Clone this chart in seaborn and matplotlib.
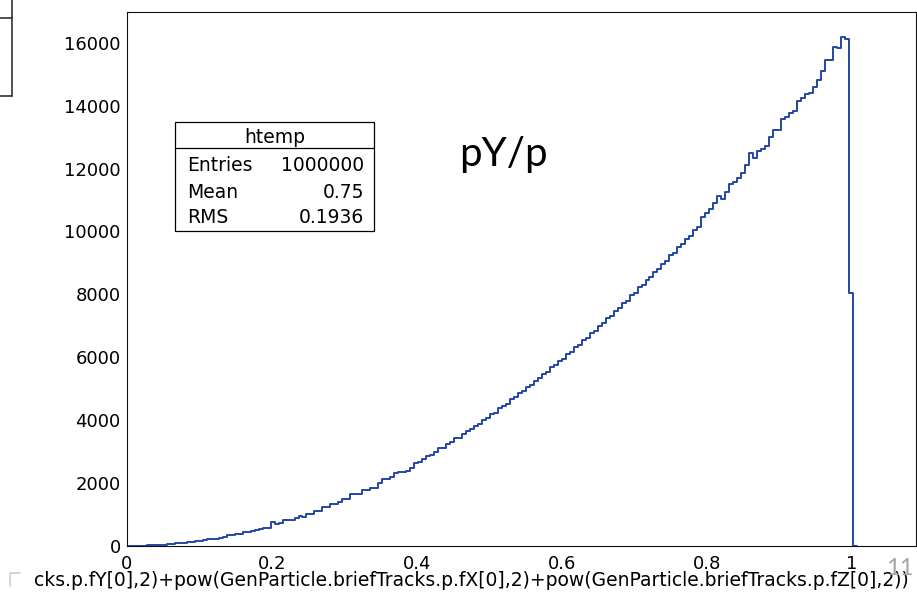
import pandas as pd
import seaborn as sns
import matplotlib.pyplot as plt
from matplotlib.ticker import MultipleLocator
from matplotlib.lines import Line2D
from matplotlib.patches import Rectangle

# histogram binning (ROOT htemp, bin width 0.0055 starting at 0)
bin_width = 0.0055

# bin contents, bins 0..181, then one empty bin
counts = [
    0, 1, 3, 7, 9, 16, 20, 29, 35, 45,
    57, 64, 82, 91, 104, 118, 134, 150, 152, 190,
    212, 222, 238, 261, 300, 339, 351, 372, 384, 430,
    450, 492, 510, 545, 572, 575, 752, 699, 720, 826,
    830, 840, 890, 964, 932, 1017, 1030, 1112, 1120, 1250,
    1255, 1335, 1345, 1398, 1494, 1500, 1642, 1650, 1660, 1780,
    1790, 1833, 1840, 1991, 2129, 2140, 2203, 2330, 2340, 2350,
    2394, 2489, 2627, 2680, 2760, 2850, 2905, 2990, 3110, 3130,
    3240, 3300, 3420, 3440, 3570, 3650, 3720, 3830, 3890, 4020,
    4070, 4190, 4240, 4380, 4440, 4520, 4660, 4730, 4850, 4920,
    5060, 5110, 5260, 5330, 5460, 5530, 5680, 5740, 5890, 5950,
    6110, 6170, 6330, 6400, 6550, 6620, 6780, 6850, 7010, 7080,
    7250, 7310, 7480, 7560, 7720, 7800, 7970, 8040, 8220, 8290,
    8470, 8540, 8720, 8800, 8980, 9060, 9240, 9330, 9500, 9590,
    9770, 9860, 10050, 10140, 10450, 10583, 10700, 10920, 11141, 11036,
    11267, 11500, 11584, 11710, 11848, 12121, 12480, 12343, 12564, 12607,
    12711, 13007, 13239, 13239, 13587, 13639, 13765, 13829, 14134, 14251,
    14356, 14398, 14609, 14830, 15115, 15463, 15463, 15873, 15821, 16170,
    16130, 8050, 0,
]

x_ticks = [0, 0.2, 0.4, 0.6, 0.8, 1.0]
x_tick_labels = ['0', '0.2', '0.4', '0.6', '0.8', '1']
y_ticks = [0, 2000, 4000, 6000, 8000, 10000, 12000, 14000, 16000]
y_tick_labels = [str(v) for v in y_ticks]

stats_title = 'htemp'
stats_rows = [('Entries', '1000000'), ('Mean', '0.75'), ('RMS', '0.1936')]
x_title = 'cks.p.fY[0],2)+pow(GenParticle.briefTracks.p.fX[0],2)+pow(GenParticle.briefTracks.p.fZ[0],2))'

W, H = 917, 597
line_blue = '#2446a6'


def fx(px):
    return px / W


def fy(py):
    return 1 - py / H


def main():
    sns.set_style('white')
    plt.rcParams['font.family'] = ['DejaVu Sans']
    plt.rcParams['text.color'] = 'black'
    plt.rcParams['xtick.color'] = 'black'
    plt.rcParams['ytick.color'] = 'black'

    n_bins = len(counts)
    edges = [round(i * bin_width, 6) for i in range(n_bins + 1)]
    centers = [(edges[i] + edges[i + 1]) / 2 for i in range(n_bins)]
    df = pd.DataFrame({'x': centers, 'count': counts})

    fig = plt.figure(figsize=(W / 100, H / 100), dpi=100)
    ax = fig.add_axes([fx(127), fy(546), fx(916) - fx(127), fy(12) - fy(546)])

    sns.histplot(data=df, x='x', weights='count', bins=edges, element='step',
                 fill=False, color=line_blue, linewidth=1.4, ax=ax)

    ax.set_xlim(0, 1.088)
    ax.set_ylim(0, 1.05 * max(counts))
    ax.set_xlabel('')
    ax.set_ylabel('')

    ax.set_xticks(x_ticks)
    ax.set_xticklabels(x_tick_labels)
    ax.set_yticks(y_ticks)
    ax.set_yticklabels(y_tick_labels)
    ax.xaxis.set_minor_locator(MultipleLocator(0.05))
    ax.yaxis.set_minor_locator(MultipleLocator(500))
    ax.tick_params(axis='x', which='major', direction='in', length=11.5, width=0.8,
                   labelsize=13, pad=6.5, colors='black')
    ax.tick_params(axis='x', which='minor', direction='in', length=6, width=0.8, colors='black')
    ax.tick_params(axis='y', which='major', direction='in', length=17, width=0.8,
                   labelsize=13, pad=4.5, colors='black')
    ax.tick_params(axis='y', which='minor', direction='in', length=8.5, width=0.8, colors='black')
    for sp in ax.spines.values():
        sp.set_color('#111111')
        sp.set_linewidth(0.8)

    # stats box
    bx0, bx1, by0, by1, bdiv = 175, 374, 122, 231, 148
    fig.add_artist(Rectangle((fx(bx0), fy(by1)), fx(bx1) - fx(bx0), fy(by0) - fy(by1),
                             transform=fig.transFigure, fill=True, facecolor='white',
                             edgecolor='black', linewidth=0.9))
    fig.add_artist(Line2D([fx(bx0), fx(bx1)], [fy(bdiv), fy(bdiv)],
                          transform=fig.transFigure, color='black', linewidth=0.9))
    fig.text(fx(275), fy(143), stats_title, ha='center', va='baseline', fontsize=13.5)
    for (name, val), base in zip(stats_rows, [171, 198, 223]):
        fig.text(fx(187), fy(base), name, ha='left', va='baseline', fontsize=13.5)
        fig.text(fx(364), fy(base), val, ha='right', va='baseline', fontsize=13.5)

    # slide annotation
    fig.text(fx(459), fy(166), 'pY/p', ha='left', va='baseline', fontsize=29,
             family=['Lato', 'DejaVu Sans'])

    # axis title (cropped on the left in the slide)
    fig.text(fx(909), fy(586.5), x_title, ha='right', va='baseline', fontsize=13.5)

    # page number
    fig.text(fx(886), fy(575), '11', ha='left', va='baseline', fontsize=17,
             color='#a6a6a6', family=['Lato', 'DejaVu Sans'])

    # edge of a cropped box at top left
    fig.add_artist(Line2D([fx(11.5), fx(11.5)], [fy(0), fy(96)], transform=fig.transFigure,
                          color='#333333', linewidth=1.2))
    fig.add_artist(Line2D([fx(0), fx(11.5)], [fy(18), fy(18)], transform=fig.transFigure,
                          color='#333333', linewidth=1.2))
    fig.add_artist(Line2D([fx(0), fx(11.5)], [fy(96), fy(96)], transform=fig.transFigure,
                          color='#333333', linewidth=1.2))
    # faint corner mark bottom left
    fig.add_artist(Line2D([fx(10), fx(10), fx(20)], [fy(586), fy(573), fy(573)],
                          transform=fig.transFigure, color='#d0d0d0', linewidth=1.2))

    fig.savefig('out.png', dpi=100)
    plt.close(fig)


if __name__ == '__main__':
    main()
